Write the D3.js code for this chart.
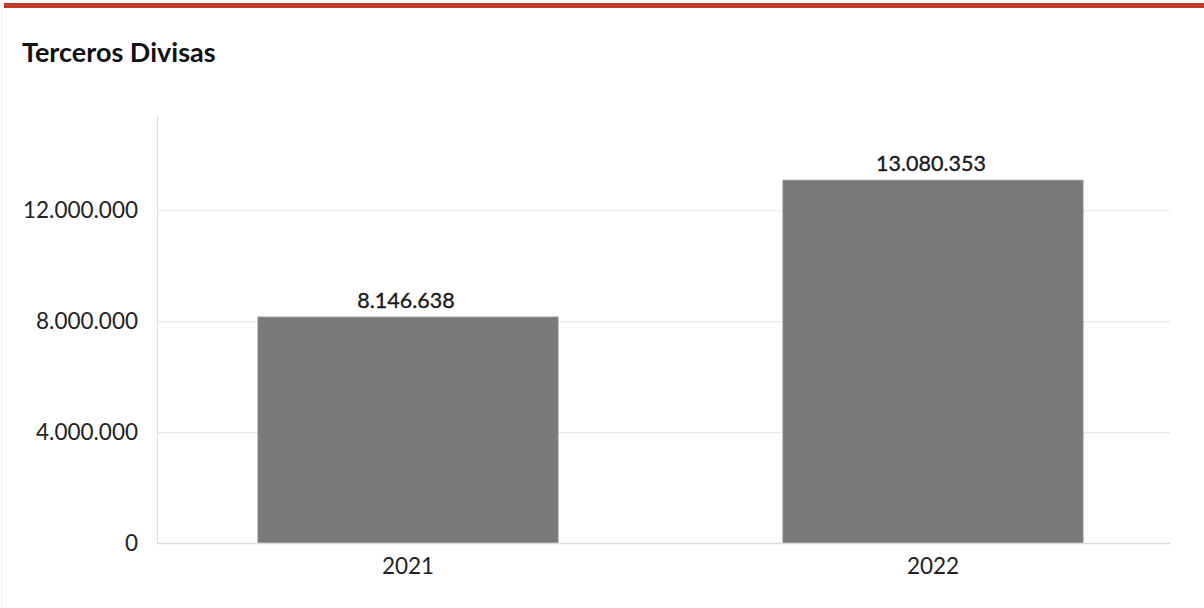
<!DOCTYPE html>
<html>
<head>
<meta charset="utf-8">
<script src="https://cdn.jsdelivr.net/npm/d3@7"></script>
<style>
  html, body { margin: 0; padding: 0; background: #fff; }
  svg { display: block; }
</style>
</head>
<body>
<svg id="chart" width="1204" height="608"></svg>
<script>
const title = "Terceros Divisas";
const categories = ["2021", "2022"];
const values = [8146638, 13080353];
const yTicks = [0, 4000000, 8000000, 12000000];
const yMax = 15400000;

const svg = d3.select("#chart");
const W = 1204, H = 608;

// top red bar
svg.append("rect").attr("x", 4).attr("y", 3).attr("width", W - 4).attr("height", 5).attr("fill", "#c0392b");
// faint left border
svg.append("line").attr("x1", 1.5).attr("x2", 1.5).attr("y1", 8).attr("y2", H).attr("stroke", "#f0f0f0");

svg.append("text").attr("x", 22).attr("y", 62)
  .attr("font-family", "Lato").attr("font-weight", "bold").attr("font-size", 27)
  .attr("fill", "#111").text(title);

const plotL = 157, plotR = 1170, plotT = 116, plotB = 543;

const y = d3.scaleLinear().domain([0, yMax]).range([plotB, plotT]);
const x = d3.scaleBand().domain(categories).range([145.5, 1195.5]).paddingInner(0.4286).paddingOuter(0.2143);

// gridlines
svg.append("g").selectAll("line").data(yTicks.filter(d => d > 0)).join("line")
  .attr("x1", plotL).attr("x2", plotR)
  .attr("y1", d => y(d) + 0.5).attr("y2", d => y(d) + 0.5)
  .attr("stroke", "#e8e8e8").attr("stroke-width", 1.2);

// y axis
const fmt = d => d3.format(",")(d).replace(/,/g, ".");
const yAxis = d3.axisLeft(y).tickValues(yTicks).tickFormat(fmt).tickSize(0).tickPadding(19);
const gy = svg.append("g").attr("transform", `translate(${plotL},0)`).call(yAxis);
gy.select(".domain").remove();
gy.selectAll("text").attr("font-family", "Lato").attr("font-size", 22.5).attr("fill", "#222");

svg.append("line").attr("x1", plotL + 0.5).attr("x2", plotL + 0.5).attr("y1", plotT).attr("y2", plotB)
  .attr("stroke", "#dedede").attr("stroke-width", 1.2);

// bars
svg.append("g").selectAll("rect").data(values).join("rect")
  .attr("x", (d, i) => x(categories[i]))
  .attr("width", x.bandwidth())
  .attr("y", d => y(d))
  .attr("height", d => plotB - y(d))
  .attr("fill", "#7a7a7a")
  .attr("stroke", "#8a8a8a").attr("stroke-width", 1);

// baseline
svg.append("line").attr("x1", plotL).attr("x2", plotR).attr("y1", plotB + 0.5).attr("y2", plotB + 0.5)
  .attr("stroke", "#dcdcdc").attr("stroke-width", 1.5);

// value labels
svg.append("g").selectAll("text").data(values).join("text")
  .attr("x", (d, i) => x(categories[i]) + x.bandwidth() / 2 - 2)
  .attr("y", d => y(d) - 9)
  .attr("text-anchor", "middle")
  .attr("font-family", "Lato").attr("font-size", 21.5).attr("font-weight", 400)
  .attr("fill", "#1a1a1a").attr("stroke", "#1a1a1a").attr("stroke-width", 0.35)
  .text(d => fmt(d));

// x axis
const xAxis = d3.axisBottom(x).tickSize(0).tickPadding(15);
const gx = svg.append("g").attr("transform", `translate(0,${plotB})`).call(xAxis);
gx.select(".domain").remove();
gx.selectAll("text").attr("font-family", "Lato").attr("font-size", 22.5).attr("fill", "#222");
</script>
</body>
</html>
